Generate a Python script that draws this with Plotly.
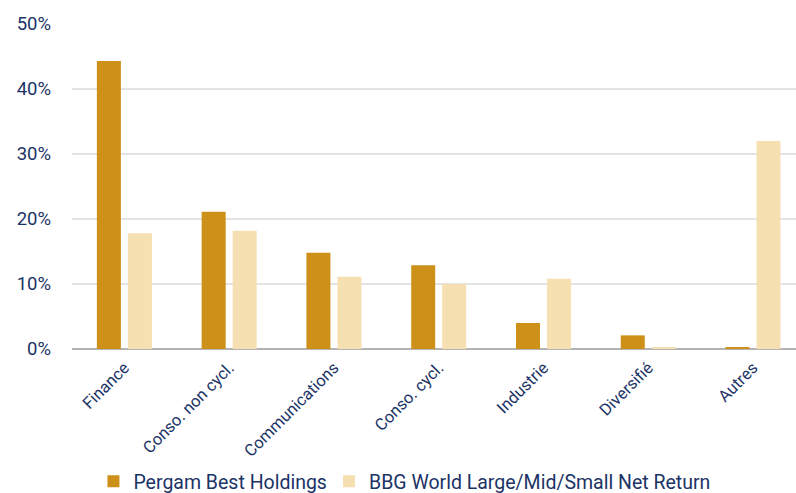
import plotly.graph_objects as go

categories = ["Finance", "Conso. non cycl.", "Communications", "Conso. cycl.",
              "Industrie", "Diversifié", "Autres"]
pergam = [44.3, 21.1, 14.8, 12.9, 4.0, 2.1, 0.3]
bbg_world = [17.8, 18.2, 11.1, 10.0, 10.8, 0.3, 32.0]
series_names = ["Pergam Best Holdings", "BBG World Large/Mid/Small Net Return"]
y_ticks = [0, 10, 20, 30, 40, 50]
y_tick_labels = ["0%", "10%", "20%", "30%", "40%", "50%"]

NAVY = "#1B3366"
GOLD = "#CD9018"
SAND = "#F6DFB0"

fig = go.Figure()
fig.add_trace(go.Bar(x=categories, y=pergam, name=series_names[0], legend="legend",
                     marker=dict(color=GOLD, line=dict(width=0))))
fig.add_trace(go.Bar(x=categories, y=bbg_world, name=series_names[1], legend="legend2",
                     marker=dict(color=SAND, line=dict(width=0))))

legend_style = dict(orientation="h", xanchor="left", y=-0.348, yanchor="top",
                    font=dict(size=19.5, color=NAVY), itemwidth=30,
                    bgcolor="rgba(0,0,0,0)")

fig.update_layout(
    width=796, height=493,
    margin=dict(l=72, r=0, t=24, b=144, autoexpand=False),
    paper_bgcolor="white", plot_bgcolor="white",
    font=dict(family="Roboto", color=NAVY),
    barmode="group", bargap=0.408, bargroupgap=0.226,
    showlegend=True,
    legend=dict(x=0.0296, **legend_style),
    legend2=dict(x=0.355, **legend_style),
)
fig.update_xaxes(
    range=[-0.5, 6.41], tickangle=-45, tickfont=dict(size=16.5, color=NAVY),
    showgrid=False, showline=False, ticks="", automargin=False,
    ticklabelstandoff=5,
)
fig.update_yaxes(
    range=[0, 50], tickvals=y_ticks, ticktext=y_tick_labels,
    tickfont=dict(size=18.5, color=NAVY), showgrid=True, gridcolor="#E4E4E4",
    gridwidth=1.5, zeroline=True, zerolinecolor="#B3B3B3", zerolinewidth=2,
    showline=False, ticks="", ticklabelstandoff=20, automargin=False,
)

fig.write_html("out.html")
